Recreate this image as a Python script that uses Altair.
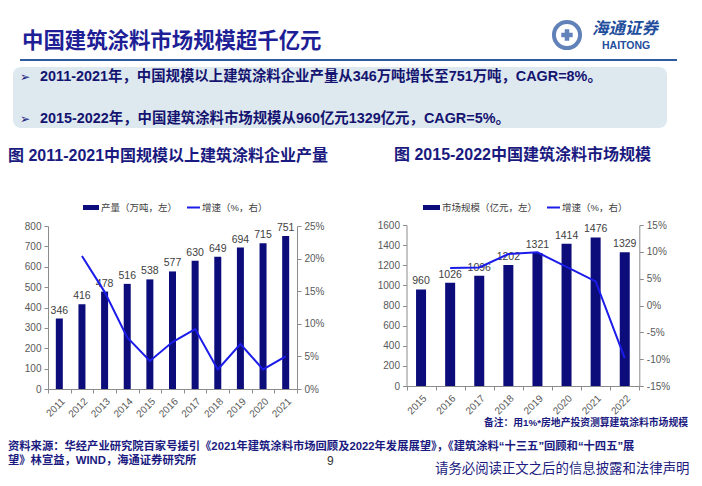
import altair as alt
import pandas as pd

# ---------------- data ----------------
years_prod = [2011, 2012, 2013, 2014, 2015, 2016, 2017, 2018, 2019, 2020, 2021]
prod = [346, 416, 478, 516, 538, 577, 630, 649, 694, 715, 751]
years_prod_growth = [2012, 2013, 2014, 2015, 2016, 2017, 2018, 2019, 2020, 2021]
prod_growth = [20.4, 14.9, 7.9, 4.3, 7.2, 9.2, 3.0, 6.9, 3.0, 5.0]

years_mkt = [2015, 2016, 2017, 2018, 2019, 2020, 2021, 2022]
mkt = [960, 1026, 1096, 1202, 1321, 1414, 1476, 1329]
years_mkt_growth = [2016, 2017, 2018, 2019, 2020, 2021, 2022]
mkt_growth = [7.0, 7.1, 9.6, 9.9, 7.2, 4.5, -9.8]

left_ticks = [0, 100, 200, 300, 400, 500, 600, 700, 800]
left_pct_ticks = [0, 5, 10, 15, 20, 25]
right_ticks = [0, 200, 400, 600, 800, 1000, 1200, 1400, 1600]
right_pct_ticks = [-15, -10, -5, 0, 5, 10, 15]

main_title = "中国建筑涂料市场规模超千亿元"
bullet1 = "2011-2021年，中国规模以上建筑涂料企业产量从346万吨增长至751万吨，CAGR=8%。"
bullet2 = "2015-2022年，中国建筑涂料市场规模从960亿元1329亿元，CAGR=5%。"
title_left = "图 2011-2021中国规模以上建筑涂料企业产量"
title_right = "图 2015-2022中国建筑涂料市场规模"
legend_left_bar = "产量（万吨，左）"
legend_left_line = "增速（%，右）"
legend_right_bar = "市场规模（亿元，左）"
legend_right_line = "增速（%，右）"
note = "备注：用1%*房地产投资测算建筑涂料市场规模"
source1 = "资料来源：华经产业研究院百家号援引《2021年建筑涂料市场回顾及2022年发展展望》，《建筑涂料“十三五”回顾和“十四五”展"
source2 = "望》林宣益，WIND，海通证券研究所"
disclaimer = "请务必阅读正文之后的信息披露和法律声明"
page_no = "9"

df_prod = pd.DataFrame({"year": years_prod, "v": prod})
df_prod_g = pd.DataFrame({"year": years_prod_growth, "g": prod_growth})
df_mkt = pd.DataFrame({"year": years_mkt, "v": mkt})
df_mkt_g = pd.DataFrame({"year": years_mkt_growth, "g": mkt_growth})
one = pd.DataFrame({"k": [0]})

FONT = "Liberation Sans, Noto Sans CJK SC, DejaVu Sans"
NAVY = "#1a1a80"
BAR = "#0c0c7a"
LINE = "#1c1cea"
W, H = 686, 470

axis_common = dict(domainColor="#8c8c8c", tickColor="#8c8c8c", tickSize=4,
                   labelColor="#595959", labelFont=FONT,
                   grid=False, labelPadding=3, format="d")


def txt(s, x, y, size, color=NAVY, weight="normal", align="left",
        baseline="middle", style="normal"):
    return alt.Chart(one).mark_text(
        text=s, fontSize=size, color=color, fontWeight=weight, align=align,
        baseline=baseline, font=FONT, fontStyle=style
    ).encode(x=alt.value(x), y=alt.value(y))


def rule(x1, x2, y, color, width):
    return alt.Chart(one).mark_rule(color=color, strokeWidth=width).encode(
        x=alt.value(x1), x2=alt.value(x2), y=alt.value(y))


def rect(x1, x2, y1, y2, color, radius=0):
    return alt.Chart(one).mark_rect(color=color, cornerRadius=radius).encode(
        x=alt.value(x1), x2=alt.value(x2), y=alt.value(y1), y2=alt.value(y2))


# ---------------- decorations ----------------
deco = [
    txt(main_title, 14, 34, 21.4, color="#1e1e96", weight="bold"),
    alt.Chart(one).mark_point(shape="circle", size=680, strokeWidth=4,
                              color="#1f4e9c", filled=False).encode(
        x=alt.value(559), y=alt.value(27)),
    alt.Chart(one).mark_point(shape="cross", size=130, color="#1f4e9c",
                              filled=True).encode(x=alt.value(559), y=alt.value(27)),
    txt("海通证券", 584, 21, 16.5, color="#1f4e9c", weight="bold", style="italic"),
    txt("HAITONG", 594, 38, 10.5, color="#1f4e9c", weight="bold"),
    rule(12, 669, 52, "#2f5aa0", 2),
    rect(5, 659, 59, 120, "#dde8ef", 8),
    txt("➢", 12, 69, 12, color=NAVY),
    txt(bullet1, 32, 69, 14.4, color="#141470", weight="bold"),
    txt("➢", 12, 111, 12, color=NAVY),
    txt(bullet2, 32, 111, 14.4, color="#141470", weight="bold"),
    txt(title_left, 0, 148, 16, weight="bold"),
    txt(title_right, 386, 147, 16, weight="bold"),
    rect(75, 91, 197, 202, BAR),
    txt(legend_left_bar, 93, 199.5, 9.5, color="#404040"),
    rule(179, 192, 199.5, LINE, 2),
    txt(legend_left_line, 194, 199.5, 9.5, color="#404040"),
    rect(415, 432, 197, 202, BAR),
    txt(legend_right_bar, 434, 199.5, 9.5, color="#404040"),
    rule(539, 552, 199.5, LINE, 2),
    txt(legend_right_line, 554, 199.5, 9.5, color="#404040"),
    txt(note, 680, 415, 9.8, weight="bold", align="right"),
    txt(source1, 0, 439, 11.3, weight="bold"),
    txt(source2, 0, 453, 11.3, weight="bold"),
    txt(page_no, 319, 453, 12, color="#333333"),
    txt(disclaimer, 427, 461, 13.4, color=NAVY),
]

# ---------------- left chart ----------------
xl = alt.X("year:O", title=None,
           scale=alt.Scale(domain=years_prod, range=[40, 289],
                           paddingInner=0, paddingOuter=0),
           axis=alt.Axis(orient="bottom", offset=-89, labelAngle=-45,
                         tickBand="extent", labelFontSize=10, **axis_common))
yl = alt.Y("v:Q", title=None,
           scale=alt.Scale(domain=[0, 800], range=[381, 218], nice=False),
           axis=alt.Axis(orient="left", offset=-40, values=left_ticks,
                         labelFontSize=10, **axis_common))
bars_l = alt.Chart(df_prod).mark_bar(size=7, color=BAR).encode(x=xl, y=yl)
labels_l = alt.Chart(df_prod).mark_text(baseline="bottom", dy=-3, fontSize=10.5,
                                        color="#404040", font=FONT).encode(
    x=xl, y=yl, text="v:Q")
yl2 = alt.Y("g:Q", title=None,
            scale=alt.Scale(domain=[0, 25], range=[381, 218], nice=False),
            axis=alt.Axis(orient="right", offset=-397, values=left_pct_ticks,
                          labelFontSize=10,
                          labelExpr="datum.value + '%'", **axis_common))
line_l = alt.Chart(df_prod_g).mark_line(color=LINE, strokeWidth=2).encode(x=xl, y=yl2)
left = alt.layer(alt.layer(bars_l, labels_l), line_l).resolve_scale(y="independent")

# ---------------- right chart ----------------
xr = alt.X("year:O", title=None,
           scale=alt.Scale(domain=years_mkt, range=[398.5, 631.3],
                           paddingInner=0, paddingOuter=0),
           axis=alt.Axis(orient="bottom", offset=-92, labelAngle=-45,
                         tickBand="extent", labelFontSize=10, **axis_common))
yr = alt.Y("v:Q", title=None,
           scale=alt.Scale(domain=[0, 1600], range=[378, 217], nice=False),
           axis=alt.Axis(orient="left", offset=-398.5, values=right_ticks,
                         labelFontSize=10, **axis_common))
bars_r = alt.Chart(df_mkt).mark_bar(size=10, color=BAR).encode(x=xr, y=yr)
labels_r = alt.Chart(df_mkt).mark_text(baseline="bottom", dy=-3, fontSize=10.5,
                                       color="#404040", font=FONT).encode(
    x=xr, y=yr, text="v:Q")
yr2 = alt.Y("g:Q", title=None,
            scale=alt.Scale(domain=[-15, 15], range=[378, 217], nice=False, zero=False),
            axis=alt.Axis(orient="right", offset=-54.7, values=right_pct_ticks,
                          labelFontSize=10,
                          labelExpr="datum.value + '%'", **axis_common))
line_r = alt.Chart(df_mkt_g).mark_line(color=LINE, strokeWidth=2).encode(x=xr, y=yr2)
right = alt.layer(alt.layer(bars_r, labels_r), line_r).resolve_scale(y="independent")

chart = alt.layer(*deco, left, right).resolve_scale(
    x="independent", y="independent"
).properties(
    width=W, height=H, padding=0, autosize=alt.AutoSizeParams(type="none"),
    background="white"
).configure_view(stroke=None)

chart.save("out.html", embed_options={"renderer": "svg", "actions": False})
